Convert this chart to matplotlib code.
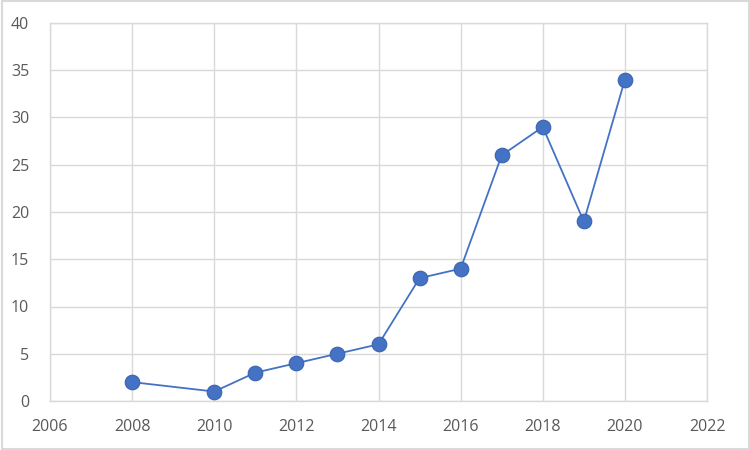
import matplotlib
matplotlib.use("Agg")
import matplotlib.pyplot as plt
from matplotlib.patches import Rectangle

years = [2008, 2010, 2011, 2012, 2013, 2014, 2015, 2016, 2017, 2018, 2019, 2020]
values = [2, 1, 3, 4, 5, 6, 13, 14, 26, 29, 19, 34]
x_ticks = [2006, 2008, 2010, 2012, 2014, 2016, 2018, 2020, 2022]
y_ticks = [0, 5, 10, 15, 20, 25, 30, 35, 40]

plt.rcParams['font.family'] = ['Open Sans', 'DejaVu Sans']

fig = plt.figure(figsize=(7.5, 4.5), dpi=100)
ax = fig.add_axes([50/750, 1-401/450, (707-50)/750, (401-23)/450])

ax.plot(years, values, color='#4472C4', lw=1.3, marker='o', markersize=10.5,
        markerfacecolor='#4472C4', markeredgecolor='#3A64AE', markeredgewidth=0.8, zorder=3)

ax.set_xlim(2006, 2022)
ax.set_ylim(0, 40)
ax.set_xticks(x_ticks)
ax.set_yticks(y_ticks)
ax.grid(True, color='#D9D9D9', lw=1.0)
ax.set_axisbelow(True)
for s in ax.spines.values():
    s.set_color('#D9D9D9')
    s.set_linewidth(1.0)
ax.tick_params(length=0, labelsize=11.5, colors='#595959')
ax.tick_params(axis='x', pad=13)
ax.tick_params(axis='y', pad=15)

fig.patches.append(Rectangle((0.002, 0.003), 0.996, 0.994, transform=fig.transFigure,
                             fill=False, edgecolor='#D9D9D9', lw=1.5))

fig.savefig('out.png', dpi=100)
